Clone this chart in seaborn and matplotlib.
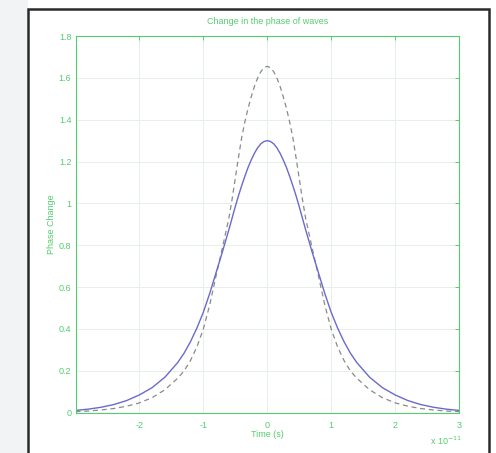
import matplotlib
matplotlib.use("Agg")
import matplotlib.pyplot as plt
import seaborn as sns
import pandas as pd
from matplotlib.patches import Rectangle

# Time values (in units of 1e-11 s)
time = [-3.0, -2.8, -2.6, -2.4, -2.2, -2.0, -1.8, -1.6, -1.4, -1.3, -1.2, -1.1,
        -1.0, -0.9, -0.8, -0.7, -0.6, -0.55, -0.5, -0.45, -0.4, -0.35,
        -0.3, -0.25, -0.2, -0.15, -0.1, -0.05,
        0.0, 0.05, 0.1, 0.15, 0.2, 0.25, 0.3, 0.35, 0.4, 0.45,
        0.5, 0.55, 0.6, 0.7, 0.8, 0.9,
        1.0, 1.1, 1.2, 1.3, 1.4, 1.6, 1.8, 2.0, 2.2, 2.4, 2.6, 2.8, 3.0]

phase_solid = [0.011, 0.017, 0.026, 0.039, 0.058, 0.085, 0.12, 0.17, 0.24, 0.285, 0.34, 0.405,
               0.48, 0.57, 0.67, 0.77, 0.875, 0.93, 0.985, 1.037, 1.085, 1.13,
               1.172, 1.208, 1.24, 1.266, 1.285, 1.296,
               1.300, 1.296, 1.285, 1.266, 1.24, 1.208, 1.172, 1.13, 1.085, 1.037,
               0.985, 0.93, 0.875, 0.77, 0.67, 0.57,
               0.48, 0.405, 0.34, 0.285, 0.24, 0.17, 0.12, 0.085, 0.058, 0.039, 0.026, 0.017, 0.011]

phase_dashed = [0.005, 0.008, 0.013, 0.02, 0.031, 0.047, 0.072, 0.11, 0.165, 0.20, 0.25, 0.315,
                0.40, 0.515, 0.655, 0.79, 0.93, 1.02, 1.12, 1.22, 1.315, 1.39,
                1.455, 1.51, 1.56, 1.60, 1.63, 1.649,
                1.655, 1.649, 1.63, 1.60, 1.56, 1.51, 1.455, 1.39, 1.315, 1.22,
                1.12, 1.02, 0.93, 0.79, 0.655, 0.515,
                0.40, 0.315, 0.25, 0.20, 0.165, 0.11, 0.072, 0.047, 0.031, 0.02, 0.013, 0.008, 0.005]

xticks = [-2, -1, 0, 1, 2, 3]
yticks = [0, 0.2, 0.4, 0.6, 0.8, 1.0, 1.2, 1.4, 1.6, 1.8]
ytick_labels = ["0", "0.2", "0.4", "0.6", "0.8", "1", "1.2", "1.4", "1.6", "1.8"]

sns.set_style("white")
plt.rcParams['font.family'] = ['Liberation Sans', 'DejaVu Sans']

W, H = 496, 453
fig = plt.figure(figsize=(W / 100, H / 100), dpi=100)
fig.patch.set_facecolor("white")

# light background band at the left and the black frame
fig.patches.append(Rectangle((0, 0), 28 / W, 1, transform=fig.transFigure,
                             facecolor="#f1f3f5", edgecolor="none", zorder=0))
fig.patches.append(Rectangle((28 / W, -0.05), (489 - 28) / W, 1 - 9 / H + 0.05,
                             transform=fig.transFigure, facecolor="white",
                             edgecolor="#2a2a2a", linewidth=1.8, zorder=1))

left, right, top, bottom = 75.5, 459, 36, 412.7
ax = fig.add_axes([left / W, 1 - bottom / H, (right - left) / W, (bottom - top) / H])
ax.set_zorder(2)
ax.set_facecolor("white")

green = "#55cc70"

df = pd.DataFrame({"time": time, "solid": phase_solid, "dashed": phase_dashed})
sns.lineplot(data=df, x="time", y="dashed", ax=ax, color="#8a8a8a",
             linestyle=(0, (4, 3)), linewidth=0.9)
sns.lineplot(data=df, x="time", y="solid", ax=ax, color="#6a6acc", linewidth=1.0)

ax.set_xlim(-3, 3)
ax.set_ylim(0, 1.8)
ax.set_xticks(xticks)
ax.set_xticklabels([str(t) for t in xticks])
ax.set_yticks(yticks)
ax.set_yticklabels(ytick_labels)

ax.grid(True, color="#e6efe8", linewidth=0.7)
for s in ax.spines.values():
    s.set_color(green)
    s.set_linewidth(0.8)
ax.tick_params(direction="in", length=3, width=0.7, color=green,
               labelcolor=green, labelsize=6.5, top=True, right=True)
ax.tick_params(axis="y", pad=3)
ax.tick_params(axis="x", pad=6)

ax.set_title("Change in the phase of waves", color=green, fontsize=6.5, pad=9)
ax.set_xlabel("Time (s)", color=green, fontsize=6.5, labelpad=0)
ax.set_ylabel("Phase Change", color=green, fontsize=6.5, labelpad=2)

fig.text(446 / W, 1 - 441 / H, r"x 10$^{-11}$", color=green, fontsize=6.5,
         ha="center", va="center")

fig.savefig("out.png", dpi=100, facecolor=fig.get_facecolor())
